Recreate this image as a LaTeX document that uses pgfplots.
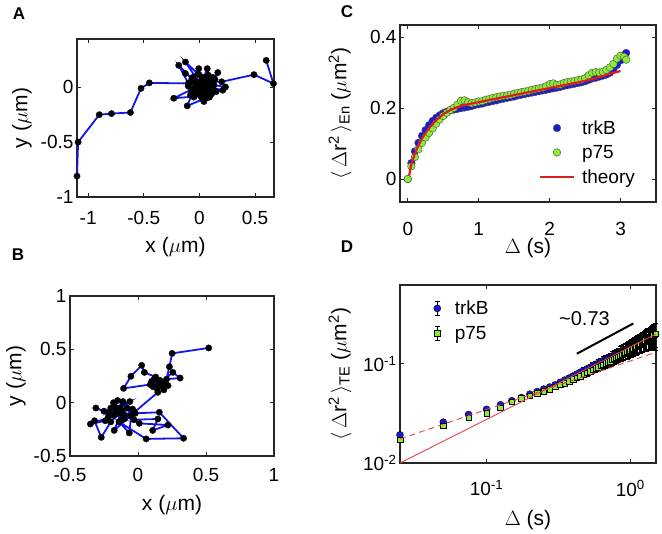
\documentclass[border=0pt]{standalone}
\usepackage{pgfplots}
\pgfplotsset{compat=1.18}
\usepackage{pgfplotstable}
\usepackage{fontspec}
\setmainfont{Liberation Sans}

\definecolor{trajblue}{RGB}{20,20,235}
\definecolor{mblue}{RGB}{25,25,215}
\definecolor{mgreen}{RGB}{140,235,55}
\definecolor{tred}{RGB}{220,30,30}
\definecolor{dred}{RGB}{228,70,70}

\pgfplotsset{
  mstyle/.style={
    scale only axis,
    axis line style={line width=1.4pt, black!85},
    tick style={black!85, line width=0.8pt},
    major tick length=4pt,
    tick label style={font=\fontsize{19}{19}\selectfont},
    label style={font=\fontsize{21}{21}\selectfont},
    /pgf/number format/assume math mode=true,
  },
  traj/.style={trajblue, line width=1.8pt, mark=*, mark size=3.2pt,
    mark options={solid, draw=black, fill=black, line width=0.3pt}},
  cleg/.style={legend image code/.code={
    \path[draw=none, fill=none] (0pt,-1pt) rectangle (34pt,1pt);
    \draw[mark repeat=2, mark phase=2, ##1]
      plot coordinates {(0pt,0pt) (17pt,0pt) (34pt,0pt)};}},
  dleg/.style={legend image code/.code={
    \path[draw=none, fill=none] (0pt,-1pt) rectangle (17pt,1pt);
    \draw[black, line width=0.5pt, solid] (8.5pt,-7pt) -- (8.5pt,7pt)
      (6pt,-7pt) -- (11pt,-7pt) (6pt,7pt) -- (11pt,7pt);
    \draw[mark repeat=2, mark phase=2, ##1]
      plot coordinates {(0pt,0pt) (8.5pt,0pt) (17pt,0pt)};}},
  ebars/.style={error bars/.cd, y dir=both, y explicit,
    error bar style={black, line width=0.5pt},
    error mark options={rotate=90, mark size=2.5pt, black, line width=0.5pt}},
}

% panel C: ensemble MSD (Delta, trkB, p75)
\pgfplotstableread{
x    b     g
0.00 0.000 0.000
0.05 0.045 0.036
0.10 0.078 0.062
0.15 0.102 0.084
0.20 0.122 0.102
0.25 0.138 0.117
0.30 0.152 0.130
0.35 0.164 0.143
0.40 0.173 0.156
0.45 0.180 0.168
0.50 0.186 0.178
0.55 0.190 0.187
0.60 0.194 0.195
0.65 0.196 0.201
0.70 0.198 0.210
0.75 0.200 0.221
0.80 0.202 0.222
0.85 0.204 0.217
0.90 0.206 0.214
0.95 0.209 0.216
1.00 0.211 0.219
1.05 0.213 0.220
1.10 0.216 0.224
1.15 0.218 0.226
1.20 0.220 0.229
1.25 0.222 0.231
1.30 0.225 0.233
1.35 0.227 0.235
1.40 0.229 0.236
1.45 0.231 0.238
1.50 0.233 0.241
1.55 0.236 0.243
1.60 0.238 0.245
1.65 0.240 0.247
1.70 0.242 0.249
1.75 0.244 0.252
1.80 0.246 0.254
1.85 0.248 0.256
1.90 0.250 0.258
1.95 0.252 0.262
2.00 0.254 0.268
2.05 0.256 0.270
2.10 0.258 0.266
2.15 0.260 0.267
2.20 0.263 0.271
2.25 0.265 0.274
2.30 0.267 0.275
2.35 0.269 0.277
2.40 0.271 0.279
2.45 0.273 0.281
2.50 0.276 0.285
2.55 0.280 0.293
2.60 0.284 0.300
2.65 0.286 0.302
2.70 0.289 0.301
2.75 0.292 0.303
2.80 0.295 0.308
2.85 0.300 0.315
2.90 0.310 0.325
2.95 0.322 0.340
3.00 0.335 0.348
3.05 0.350 0.345
3.08 0.356 0.337
}\dataC

% panel D: time-averaged MSD with errors
\pgfplotstableread{
x     b      be     g      ge
0.025 0.0192 0.0008 0.0171 0.0007
0.050 0.0258 0.0009 0.0238 0.0008
0.075 0.0308 0.0010 0.0287 0.0009
0.100 0.0347 0.0012 0.0318 0.0011
0.125 0.0386 0.0013 0.0360 0.0012
0.150 0.0424 0.0015 0.0414 0.0014
0.175 0.0456 0.0017 0.0448 0.0016
0.200 0.0493 0.0020 0.0478 0.0018
0.225 0.0524 0.0022 0.0503 0.0020
0.250 0.0555 0.0025 0.0531 0.0023
0.275 0.0582 0.0028 0.0556 0.0025
0.300 0.0612 0.0030 0.0586 0.0027
0.325 0.0648 0.0034 0.0612 0.0031
0.350 0.0684 0.0038 0.0640 0.0034
0.375 0.0716 0.0042 0.0668 0.0038
0.400 0.0752 0.0046 0.0695 0.0041
0.425 0.0786 0.0050 0.0723 0.0045
0.450 0.0822 0.0055 0.0752 0.0050
0.475 0.0851 0.0060 0.0780 0.0054
0.500 0.0887 0.0066 0.0812 0.0059
0.525 0.0915 0.0072 0.0840 0.0065
0.550 0.0952 0.0078 0.0868 0.0070
0.575 0.0978 0.0084 0.0897 0.0076
0.600 0.1013 0.0090 0.0925 0.0081
0.625 0.1040 0.0097 0.0952 0.0087
0.650 0.1075 0.0104 0.0981 0.0094
0.675 0.1101 0.0112 0.1008 0.0101
0.700 0.1135 0.0120 0.1037 0.0108
0.725 0.1160 0.0128 0.1064 0.0115
0.750 0.1193 0.0136 0.1092 0.0122
0.775 0.1217 0.0145 0.1120 0.0131
0.800 0.1250 0.0154 0.1148 0.0139
0.825 0.1275 0.0164 0.1176 0.0148
0.850 0.1307 0.0174 0.1204 0.0157
0.875 0.1331 0.0185 0.1232 0.0167
0.900 0.1362 0.0196 0.1260 0.0176
0.925 0.1386 0.0208 0.1290 0.0187
0.950 0.1417 0.0220 0.1318 0.0198
0.975 0.1440 0.0232 0.1347 0.0209
1.000 0.1470 0.0245 0.1376 0.0221
1.025 0.1494 0.0258 0.1405 0.0232
1.050 0.1523 0.0272 0.1436 0.0245
1.075 0.1547 0.0286 0.1466 0.0257
1.100 0.1576 0.0300 0.1497 0.0270
1.125 0.1599 0.0315 0.1527 0.0284
1.150 0.1628 0.0330 0.1558 0.0297
1.175 0.1651 0.0346 0.1590 0.0311
1.200 0.1679 0.0362 0.1621 0.0326
1.225 0.1702 0.0379 0.1652 0.0341
1.250 0.1730 0.0396 0.1684 0.0356
1.275 0.1752 0.0414 0.1716 0.0373
1.300 0.1780 0.0432 0.1748 0.0389
1.325 0.1802 0.0450 0.1780 0.0405
1.350 0.1830 0.0470 0.1812 0.0423
1.375 0.1851 0.0490 0.1845 0.0441
1.400 0.1879 0.0510 0.1878 0.0459
1.425 0.1900 0.0530 0.1911 0.0477
1.450 0.1928 0.0550 0.1944 0.0495
1.475 0.1948 0.0575 0.1978 0.0518
1.500 0.1976 0.0600 0.2010 0.0540
}\dataD

\begin{document}
\begin{tikzpicture}
\useasboundingbox (0,0) rectangle (662pt,534pt);

% ---------------- A
\begin{axis}[mstyle, name=axA, at={(77pt,337pt)}, anchor=south west,
  width=197pt, height=158pt, clip=false,
  xmin=-1.1, xmax=0.67, ymin=-1, ymax=0.44,
  xtick={-1,-0.5,0,0.5}, ytick={-1,-0.5,0},
  xticklabel style={anchor=center, yshift=-21pt},
  xlabel={x (\(\mu\)m)}, ylabel={y (\(\mu\)m)},
  xlabel style={at={(axis description cs:0.5,-0.316)}, anchor=center},
  ylabel style={at={(axis description cs:-0.279,0.5)}, anchor=center},
]
\addplot[traj] coordinates {
(-1.10,-0.81) (-1.09,-0.50) (-0.90,-0.25) (-0.79,-0.24) (-0.62,-0.23)
(-0.525,-0.01) (-0.45,0.04) (-0.10,0.035) (-0.186,0.20) (-0.06,0.07)
(0.02,0.01) (-0.126,0.23) (-0.01,0.12) (0.08,-0.04) (0.01,-0.08)
(-0.23,-0.10) (-0.07,-0.02) (0.10,0.05) (0.07,0.17) (0.04,0.09)
(-0.03,-0.06) (0.12,-0.02) (0.06,0.02) (-0.09,0.04) (-0.006,0.17)
(0.00,0.11) (0.09,-0.09) (-0.04,0.00) (-0.11,-0.17) (0.03,-0.11)
(0.14,0.07) (0.165,0.134) (0.11,0.02) (-0.08,-0.07) (0.07,0.08)
(0.01,0.03) (-0.06,0.09) (-0.126,0.125) (-0.02,0.05) (0.11,-0.06)
(0.234,0.003) (0.13,0.02) (0.05,-0.03) (0.04,-0.13) (0.00,-0.04)
(-0.10,0.01) (0.08,0.11) (0.04,-0.07) (-0.05,-0.09) (0.21,-0.027)
(0.10,0.00) (0.02,0.06) (-0.03,0.03) (0.15,-0.04) (0.06,-0.10)
(-0.07,0.07) (0.03,0.00) (0.09,0.04) (-0.01,-0.02) (0.12,0.09)
(0.05,0.05) (0.20,0.05) (0.49,0.115) (0.665,0.034) (0.60,0.245)
};
\end{axis}

% ---------------- B
\begin{axis}[mstyle, name=axB, at={(70pt,78pt)}, anchor=south west,
  width=204pt, height=160pt,
  xmin=-0.5, xmax=1, ymin=-0.5, ymax=1,
  xtick={-0.5,0,0.5,1}, ytick={-0.5,0,0.5,1},
  xticklabel style={anchor=center, yshift=-19pt},
  xlabel={x (\(\mu\)m)}, ylabel={y (\(\mu\)m)},
  xlabel style={at={(axis description cs:0.5,-0.306)}, anchor=center},
  ylabel style={at={(axis description cs:-0.265,0.5)}, anchor=center},
]
\addplot[traj] coordinates {
(-0.13,-0.10) (-0.20,-0.05) (-0.10,-0.15) (-0.31,-0.05) (-0.18,-0.12)
(-0.08,-0.05) (-0.15,0.02) (-0.22,-0.14) (-0.35,-0.20) (-0.24,-0.17)
(-0.32,-0.17) (-0.27,-0.325) (-0.20,-0.18) (-0.12,-0.08) (-0.175,-0.26)
(-0.05,-0.12) (-0.064,-0.284) (-0.14,-0.18) (0.06,-0.34) (0.335,-0.334)
(0.157,-0.09) (-0.02,-0.10) (-0.11,0.01) (-0.16,-0.08) (0.01,-0.194)
(0.22,-0.21) (0.108,-0.26) (0.146,-0.153) (-0.03,-0.16) (-0.18,0.00)
(-0.10,-0.12) (-0.25,-0.08) (-0.06,0.01) (-0.13,-0.05) (-0.21,-0.10)
(-0.04,-0.06) (-0.12,-0.16) (-0.17,-0.04) (-0.027,-0.09) (0.146,0.097)
(0.10,0.20) (0.18,0.15) (0.12,0.22) (0.20,0.19) (0.14,0.13)
(0.09,0.17) (-0.106,0.134) (-0.052,0.247) (0.027,0.35) (0.047,0.284)
(0.13,0.24) (0.17,0.18) (0.22,0.16) (0.11,0.15) (0.16,0.21)
(0.21,0.22) (0.31,0.231) (0.256,0.284) (0.15,0.17) (0.19,0.12)
(0.231,0.337) (0.251,0.462) (0.52,0.513)
};
\end{axis}

% ---------------- C
\begin{axis}[mstyle, cleg, name=axC, at={(400pt,332pt)}, anchor=south west,
  width=256pt, height=177pt, clip=false, clip marker paths=true,
  xmin=-0.11, xmax=3.5, ymin=-0.065, ymax=0.435,
  xtick={0,1,2,3}, ytick={0,0.2,0.4},
  xticklabel style={anchor=center, yshift=-27pt},
  xlabel={\(\Delta\) (s)},
  ylabel={\(\langle\)\,\(\Delta\)r\textsuperscript{2}\,\(\rangle\)\textsubscript{En} (\(\mu\)m\textsuperscript{2})},
  xlabel style={at={(axis description cs:0.5,-0.26)}, anchor=center},
  ylabel style={at={(axis description cs:-0.234,0.5)}, anchor=center},
  legend style={draw=none, fill=none, at={(axis description cs:0.53,0.075)},
    anchor=south west, font=\fontsize{19}{19}\selectfont, row sep=5.5pt,
    /tikz/every odd column/.append style={column sep=5pt}},
  legend cell align=left,
]
\addplot[only marks, mark=*, mark size=3.8pt,
  mark options={fill=mblue, draw=black!70, line width=0.4pt}]
  table[x=x, y=b] {\dataC};
\addlegendentry{trkB}
\addplot[only marks, mark=*, mark size=3.8pt,
  mark options={fill=mgreen, draw=black!70, line width=0.4pt}]
  table[x=x, y=g] {\dataC};
\addlegendentry{p75}
\addplot[draw=tred, line width=2.2pt, no marks]
  coordinates {
  (0.02,0.010) (0.03,0.022) (0.05,0.042) (0.10,0.072) (0.15,0.095)
  (0.20,0.114) (0.25,0.130) (0.30,0.144) (0.40,0.166) (0.50,0.183)
  (0.60,0.195) (0.70,0.203) (0.80,0.209) (0.90,0.213) (1.00,0.217)
  (1.20,0.225) (1.40,0.233) (1.60,0.241) (1.80,0.249) (2.00,0.257)
  (2.20,0.265) (2.40,0.273) (2.60,0.282) (2.80,0.294) (3.00,0.305)
};
\addlegendentry{theory}
\end{axis}

% ---------------- D
\begin{axis}[mstyle, dleg, name=axD, at={(400pt,71pt)}, anchor=south west,
  width=256pt, height=178pt, clip=false, clip marker paths=true,
  xmode=log, ymode=log,
  xmin=0.025, xmax=1.51, ymin=0.01, ymax=0.62,
  xtick={0.1,1}, xticklabels={10\textsuperscript{-1},10\textsuperscript{0}},
  ytick={0.01,0.1}, yticklabels={10\textsuperscript{-2},10\textsuperscript{-1}},
  xminorticks=false, yminorticks=false,
  xticklabel style={anchor=north, yshift=-14pt},
  xlabel={\(\Delta\) (s)},
  ylabel={\(\langle\)\,\(\Delta\)r\textsuperscript{2}\,\(\rangle\)\textsubscript{TE} (\(\mu\)m\textsuperscript{2})},
  xlabel style={at={(axis description cs:0.5,-0.32)}, anchor=center},
  ylabel style={at={(axis description cs:-0.234,0.5)}, anchor=center},
  legend style={draw=none, fill=none, at={(axis description cs:0.1,0.935)},
    anchor=north west, font=\fontsize{19}{19}\selectfont, row sep=6pt,
    /tikz/every odd column/.append style={column sep=7pt}},
  legend cell align=left,
]
\addplot[only marks, mark=*, mark size=3.5pt,
  mark options={fill=mblue, draw=black, line width=0.4pt}, ebars]
  table[x=x, y=b, y error=be] {\dataD};
\addlegendentry{trkB}
\addplot[only marks, mark=square*, mark size=2.8pt,
  mark options={fill=mgreen, draw=black, line width=0.4pt}, ebars]
  table[x=x, y=g, y error=ge] {\dataD};
\addlegendentry{p75}
\addplot[dred, line width=0.9pt, forget plot] coordinates {(0.025,0.01) (1.5,0.198)};
\addplot[dred, line width=0.9pt, dash pattern=on 6pt off 4pt, forget plot]
  coordinates {(0.025,0.0175) (1.5,0.13)};
\addplot[black, line width=2pt, forget plot] coordinates {(0.425,0.126) (1.05,0.254)};
\node[font=\fontsize{20}{20}\selectfont] at (axis cs:0.48,0.285) {\textasciitilde 0.73};
\end{axis}

\node[font=\bfseries\fontsize{17}{17}\selectfont] at ([xshift=-58pt, yshift=25pt]axA.north west) {A};
\node[font=\bfseries\fontsize{17}{17}\selectfont] at ([xshift=-52pt, yshift=41pt]axB.north west) {B};
\node[font=\bfseries\fontsize{17}{17}\selectfont] at ([xshift=-53pt, yshift=13pt]axC.north west) {C};
\node[font=\bfseries\fontsize{17}{17}\selectfont] at ([xshift=-53pt, yshift=38pt]axD.north west) {D};
\end{tikzpicture}
\end{document}
